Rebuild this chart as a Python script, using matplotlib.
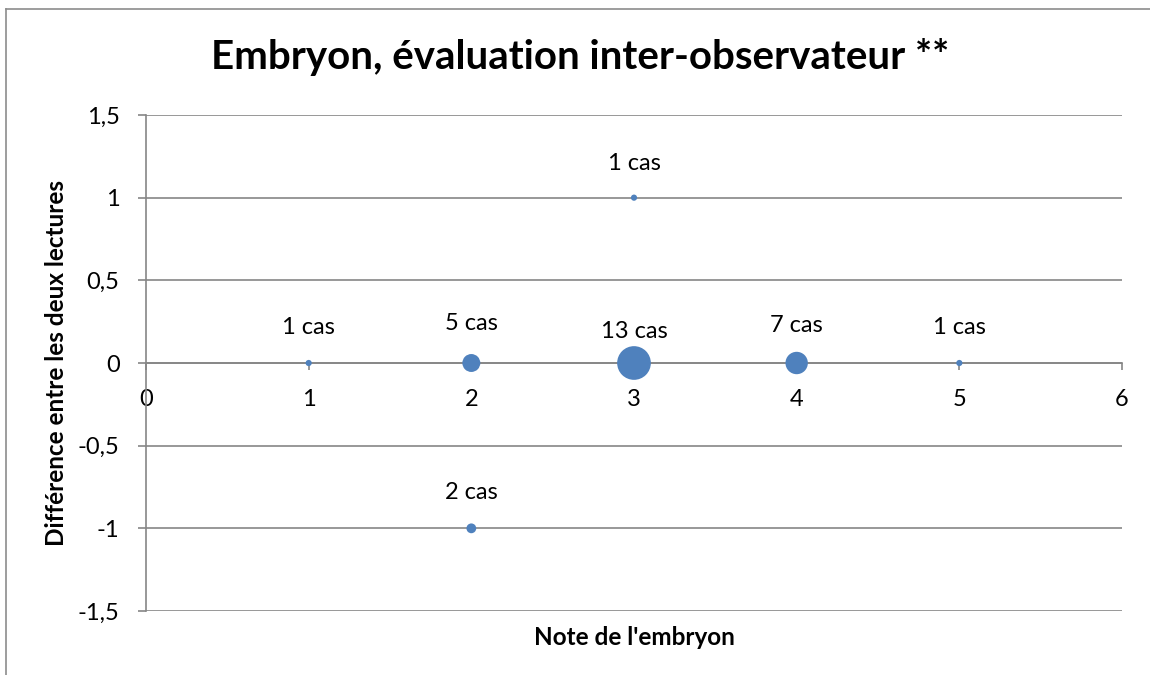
import matplotlib
matplotlib.use("Agg")
import matplotlib.pyplot as plt
from matplotlib.ticker import FuncFormatter, MultipleLocator
from matplotlib.lines import Line2D

# ---- data ----
note_embryon = [1, 2, 3, 4, 5, 3, 2]
difference = [0, 0, 0, 0, 0, 1, -1]
nb_cas = [1, 5, 13, 7, 1, 1, 2]
labels = ["1 cas", "5 cas", "13 cas", "7 cas", "1 cas", "1 cas", "2 cas"]

title = "Embryon, évaluation inter-observateur **"
xlabel = "Note de l'embryon"
ylabel = "Différence entre les deux lectures"

# ---- style ----
FONT = ["Lato", "DejaVu Sans"]
plt.rcParams["font.family"] = FONT
BLUE = "#4F81BD"
GRID = "#868686"
label_offsets_px = [36, 40, 32, 38, 36, 34, 36]

fig = plt.figure(figsize=(11.5, 6.75), dpi=100)
W, H = 1150, 675
ax = fig.add_axes([146 / W, 1 - 611 / H, (1122 - 146) / W, (611 - 115) / H])

# outer frame of chart area (left and top edges visible)
fig.add_artist(Line2D([6 / W, 6 / W], [0, 1 - 9 / H], transform=fig.transFigure,
                      color="#8c8c8c", lw=1.2))
fig.add_artist(Line2D([6 / W, 1], [1 - 9 / H, 1 - 9 / H], transform=fig.transFigure,
                      color="#8c8c8c", lw=1.2))

ax.set_xlim(0, 6)
ax.set_ylim(-1.5, 1.5)
ax.yaxis.set_major_locator(MultipleLocator(0.5))
ax.xaxis.set_major_locator(MultipleLocator(1))


def comma_fmt(v, pos):
    if abs(v - round(v)) < 1e-9:
        return "%d" % round(v)
    return ("%.1f" % v).replace(".", ",")


ax.yaxis.set_major_formatter(FuncFormatter(comma_fmt))
ax.xaxis.set_major_formatter(FuncFormatter(comma_fmt))

ax.grid(axis="y", color=GRID, lw=1.2)
ax.set_axisbelow(True)

for s in ["top", "right"]:
    ax.spines[s].set_visible(False)
ax.spines["left"].set_color(GRID)
ax.spines["left"].set_linewidth(1.2)
ax.spines["bottom"].set_position(("data", 0))
ax.spines["bottom"].set_color(GRID)
ax.spines["bottom"].set_linewidth(1.2)

ax.tick_params(axis="y", direction="out", length=6, width=1.2, color=GRID,
               labelsize=17, pad=13)
ax.tick_params(axis="x", direction="out", length=5, width=1.2, color=GRID,
               labelsize=17, pad=14)

# bubbles: diameter grows with count (Excel-like bubble scaling)
sizes = [(6.2 * 0.72 * n ** 0.66) ** 2 for n in nb_cas]
ax.scatter(note_embryon, difference, s=sizes, color=BLUE, zorder=3,
           edgecolors="none", clip_on=False)

for x, y, lab, off in zip(note_embryon, difference, labels, label_offsets_px):
    ax.annotate(lab, (x, y), xytext=(0, off * 0.72), textcoords="offset points",
                ha="center", va="center", fontsize=17, color="black")

fig.text(580 / W, 1 - 57 / H, title, ha="center", va="center",
         fontsize=29, fontweight="bold")
ax.set_xlabel(xlabel, fontsize=17.5, fontweight="bold")
ax.xaxis.set_label_coords(0.5, -15 / 496)
ax.set_ylabel(ylabel, fontsize=17.5, fontweight="bold")
ax.yaxis.set_label_coords(-(146 - 68) / 976, 0.5)

fig.savefig("out.png", dpi=100)
